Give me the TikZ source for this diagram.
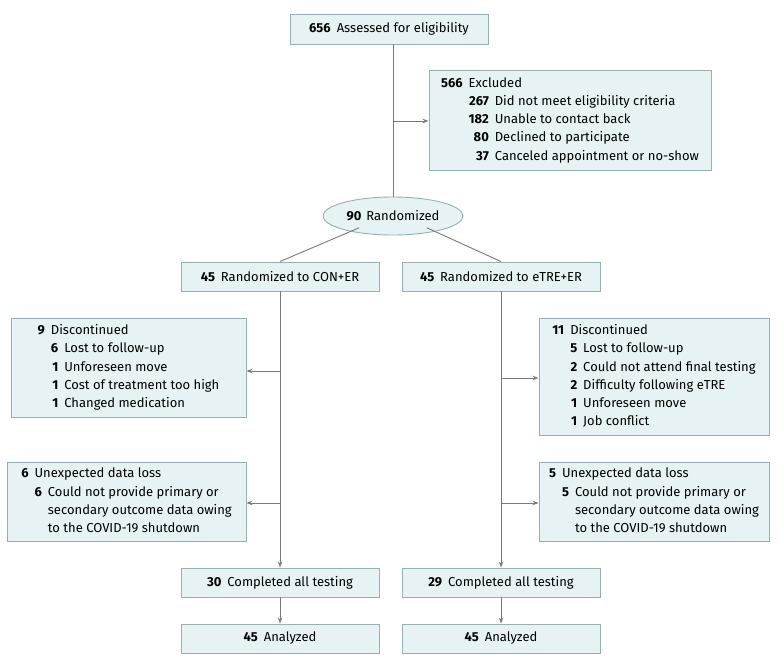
\documentclass[tikz,border=0pt]{standalone}
\usepackage{fontspec}
\setmainfont{Fira Sans}
\usetikzlibrary{arrows.meta,shapes.geometric}
\definecolor{boxfill}{HTML}{E6F2F3}
\definecolor{boxdraw}{HTML}{98B0B3}
\definecolor{linec}{HTML}{7A7A7A}
\newcommand{\lst}[1]{{\renewcommand{\arraystretch}{1.0}\setlength{\tabcolsep}{0pt}\begin{tabular}{@{}r@{\hspace{6pt}}r@{\hspace{6pt}}l@{}}#1\end{tabular}}}
\tikzset{
  box/.style={draw=boxdraw, fill=boxfill, line width=0.9pt, inner sep=0pt, align=left,
    font=\fontsize{13}{18.2}\selectfont},
  ell/.style={ellipse, draw=boxdraw, fill=boxfill, line width=0.9pt, inner sep=0pt,
    font=\fontsize{13}{18.2}\selectfont},
  conn/.style={draw=linec, line width=0.9pt},
  arr/.style={conn, -{Stealth[length=6pt,width=4.5pt]}}
}
\begin{document}
\begin{tikzpicture}[x=1pt,y=-1pt]
\useasboundingbox (0,0) rectangle (780,668);
\node[box, minimum width=198pt, minimum height=30pt] (assess) at (389,29) {\textbf{656}\hspace{6pt}Assessed for eligibility};
\node[box, minimum width=282pt, minimum height=100pt] (excl) at (570,120) {\lst{\textbf{566} & \multicolumn{2}{@{}l@{}}{Excluded}\\
 & \textbf{267} & Did not meet eligibility criteria\\
 & \textbf{182} & Unable to contact back\\
 & \textbf{80} & Declined to participate\\
 & \textbf{37} & Canceled appointment or no-show}};
\node[ell, minimum width=140pt, minimum height=38pt] (rand) at (393,216) {\textbf{90}\hspace{5pt}Randomized};
\node[box, minimum width=198pt, minimum height=29pt] (con) at (280,276.5) {\textbf{45}\hspace{6pt}Randomized to CON+ER};
\node[box, minimum width=198pt, minimum height=29pt] (etre) at (501,276.5) {\textbf{45}\hspace{6pt}Randomized to eTRE+ER};
\node[box, minimum width=235pt, minimum height=99pt] (disL) at (128.5,367.5) {\lst{\textbf{9} & \multicolumn{2}{@{}l@{}}{Discontinued}\\
 & \textbf{6} & Lost to follow-up\\
 & \textbf{1} & Unforeseen move\\
 & \textbf{1} & Cost of treatment too high\\
 & \textbf{1} & Changed medication}};
\node[box, minimum width=230pt, minimum height=117pt] (disR) at (654,376.5) {\lst{\textbf{11} & \multicolumn{2}{@{}l@{}}{Discontinued}\\
 & \textbf{5} & Lost to follow-up\\
 & \textbf{2} & Could not attend final testing\\
 & \textbf{2} & Difficulty following eTRE\\
 & \textbf{1} & Unforeseen move\\
 & \textbf{1} & Job conflict}};
\node[box, minimum width=239pt, minimum height=79pt] (uneL) at (126.5,501.5) {\lst{\textbf{6} & \multicolumn{2}{@{}l@{}}{Unexpected data loss}\\
 & \textbf{6} & Could not provide primary or\\
 & & secondary outcome data owing\\
 & & to the COVID-19 shutdown}};
\node[box, minimum width=230pt, minimum height=79pt] (uneR) at (654,501.5) {\lst{\textbf{5} & \multicolumn{2}{@{}l@{}}{Unexpected data loss}\\
 & \textbf{5} & Could not provide primary or\\
 & & secondary outcome data owing\\
 & & to the COVID-19 shutdown}};
\node[box, minimum width=198pt, minimum height=29pt] (compL) at (280,582.5) {\textbf{30}\hspace{6pt}Completed all testing};
\node[box, minimum width=198pt, minimum height=29pt] (compR) at (501,582.5) {\textbf{29}\hspace{6pt}Completed all testing};
\node[box, minimum width=198pt, minimum height=29pt] (anaL) at (280,638.5) {\textbf{45}\hspace{6pt}Analyzed};
\node[box, minimum width=198pt, minimum height=29pt] (anaR) at (501,638.5) {\textbf{45}\hspace{6pt}Analyzed};
% connectors
\coordinate (top) at (rand.north |- assess.south);
\draw[conn] (top) -- (rand.north);
\coordinate (jx) at (393,121);
\draw[arr] (jx) -- (jx -| excl.west);
\draw[conn] (rand.south west) ++(16pt,2pt) coordinate (rl) -- (con.north);
\draw[conn] (rand.south east) ++(-16pt,2pt) coordinate (rr) -- (etre.north);
\draw[arr] (con.south) -- (compL.north);
\draw[arr] (etre.south) -- (compR.north);
\coordinate (l1) at (280,371);
\coordinate (l2) at (280,503);
\coordinate (r1) at (501,378);
\coordinate (r2) at (501,503);
\draw[arr] (l1) -- (l1 -| disL.east);
\draw[arr] (l2) -- (l2 -| uneL.east);
\draw[arr] (r1) -- (r1 -| disR.west);
\draw[arr] (r2) -- (r2 -| uneR.west);
\draw[arr] (compL.south) -- (anaL.north);
\draw[arr] (compR.south) -- (anaR.north);
\end{tikzpicture}
\end{document}
